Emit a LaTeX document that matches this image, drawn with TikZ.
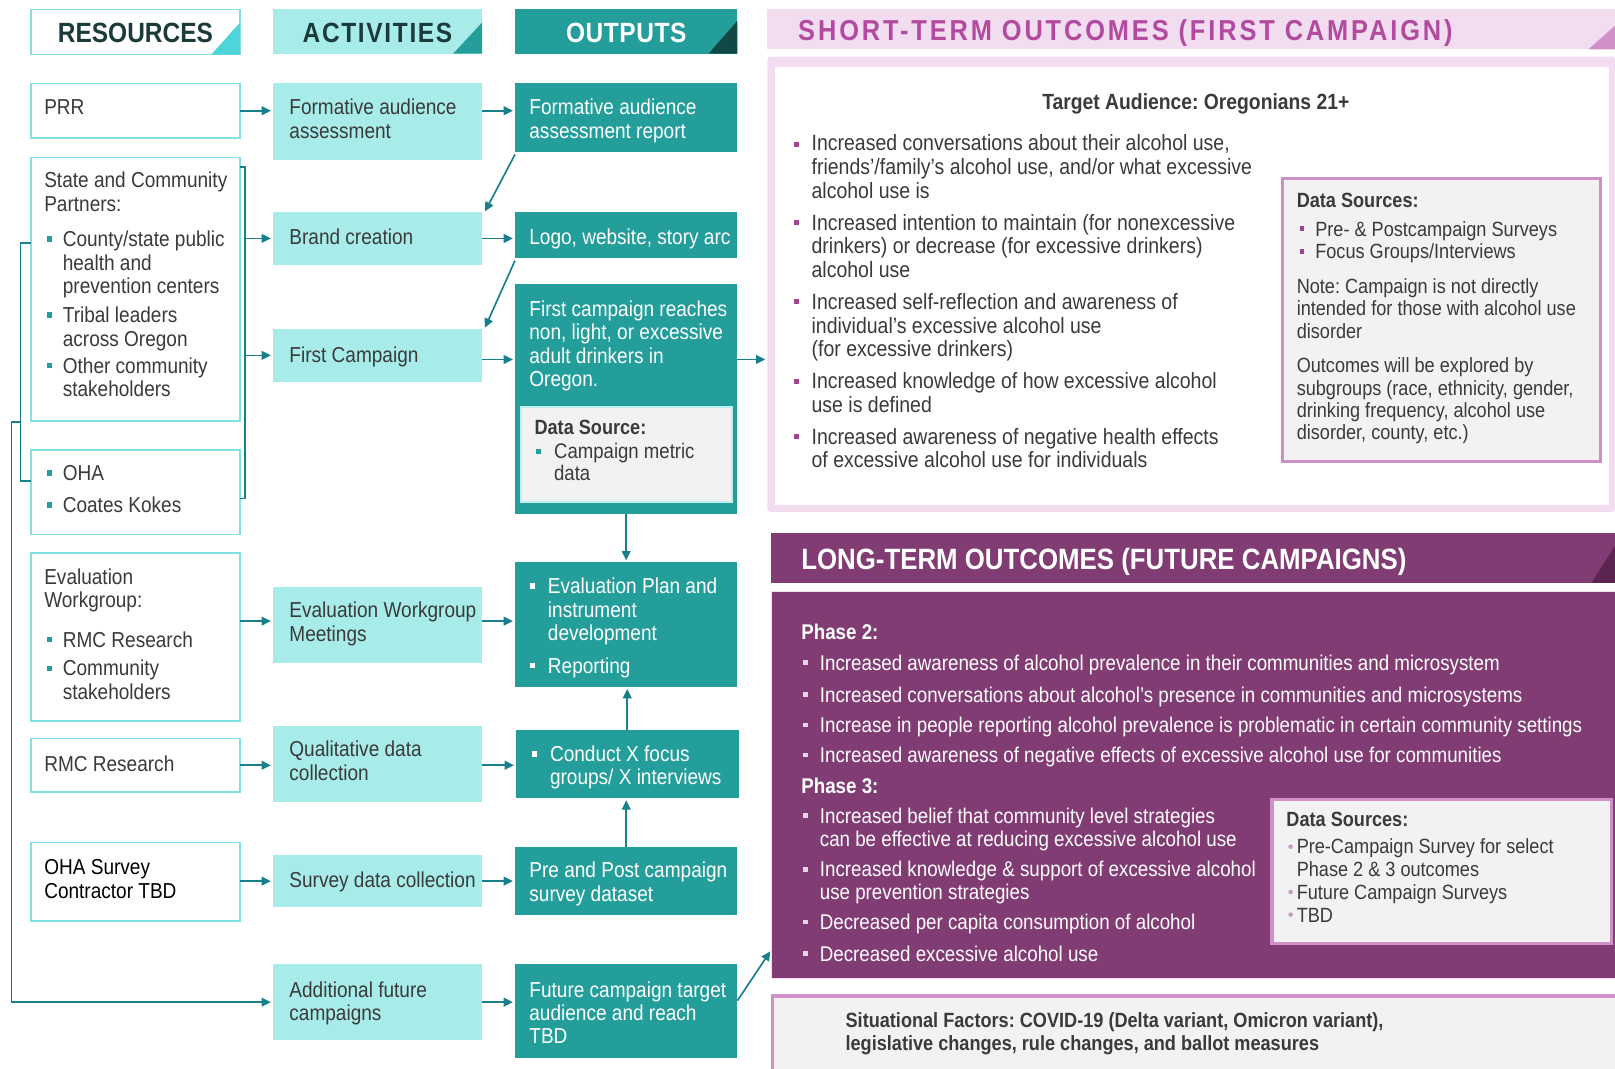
\documentclass[tikz,border=0pt]{standalone}
\usepackage{fontspec}
\setmainfont[FakeStretch=0.88]{Liberation Sans}
\usetikzlibrary{arrows.meta}
\definecolor{tealbox}{HTML}{239E9B}
\definecolor{actc}{HTML}{A8ECEA}
\definecolor{resb}{HTML}{80E0E5}
\definecolor{arrc}{HTML}{17808A}
\definecolor{tri1}{HTML}{4FD5D9}
\definecolor{tri3}{HTML}{104845}
\definecolor{headc}{HTML}{1B3B3B}
\definecolor{bodyc}{HTML}{3A3A3A}
\definecolor{pinkbg}{HTML}{F1DDEF}
\definecolor{magtext}{HTML}{B24A9F}
\definecolor{pinktri}{HTML}{D190C8}
\definecolor{sqmag}{HTML}{A04490}
\definecolor{purp}{HTML}{823C74}
\definecolor{dpurp}{HTML}{5B2451}
\definecolor{dsb}{HTML}{CF8FC6}
\definecolor{grayb}{HTML}{F2F2F2}
\definecolor{ltsq}{HTML}{E6D6E4}
\definecolor{dotc}{HTML}{C39ABD}
\definecolor{dsin}{HTML}{BDEFEF}
\newcommand\bx[7]{\node[#2, anchor=north west, minimum width={(#5-#3)*1pt}, minimum height={(#6-#4)*1pt}] (#1) at (#3,#4) {#7};}
\newcommand\sq[4]{\fill[#1] ({#2-#4/2},{#3-#4/2}) rectangle ++(#4,#4);}
\begin{document}
\frenchspacing
\begin{tikzpicture}[x=1pt,y=-1pt,
  box/.style={inner sep=0pt, outer sep=0pt},
  resbox/.style={box, draw=resb, line width=1.5pt, fill=white},
  actbox/.style={box, fill=actc},
  outbox/.style={box, fill=tealbox},
  hd/.style={font=\fontsize{27}{30}\selectfont\bfseries},
  txt/.style={inner sep=0pt, outer sep=0pt, align=left, anchor=west, yshift=-3pt, execute at begin node=\strut, execute at end node=\strut},
  rt/.style={txt, font=\fontsize{21}{23}\selectfont, text=bodyc},
  ot/.style={txt, font=\fontsize{21}{22.7}\selectfont, text=white},
  st/.style={txt, font=\fontsize{21.5}{23}\selectfont, text=bodyc},
  dst/.style={txt, font=\fontsize{20}{21.7}\selectfont, text=bodyc},
  lt/.style={txt, font=\fontsize{20.7}{23}\selectfont, text=white},
  arr/.style={draw=arrc, line width=1.6pt, -{Triangle[length=9pt,width=8.5pt]}, shorten >=2pt},
  conn/.style={draw=arrc, line width=1.5pt}
]
\useasboundingbox (0,0) rectangle (1568,1037);

% ---------- headers ----------
\bx{hres}{resbox}{30}{9}{233}{53}{}
\fill[tri1] (205,53) -- (233,53) -- (233,22) -- cycle;
\node[hd, text=headc, yshift=-1pt] (hrest) at (hres.center) {RESOURCES};
\bx{hact}{actbox}{265}{9}{468}{52}{}
\fill[tealbox] (440,52) -- (468,52) -- (468,22) -- cycle;
\node[hd, text=headc, yshift=-1pt] (hactt) at (hact.center) {\addfontfeatures{LetterSpace=6}ACTIVITIES};
\bx{hout}{outbox}{500}{9}{716}{52}{}
\fill[tri3] (688,52) -- (716,52) -- (716,20) -- cycle;
\node[hd, text=white, yshift=-1pt] (houtt) at (hout.center) {\addfontfeatures{LetterSpace=2}OUTPUTS};

% ---------- resources ----------
\bx{prr}{resbox}{30}{81}{233}{134}{}
\bx{scp}{resbox}{30}{153}{233}{409}{}
\bx{oha}{resbox}{30}{437}{233}{519}{}
\bx{ewg}{resbox}{30}{537}{233}{700}{}
\bx{rmc}{resbox}{30}{717}{233}{769}{}
\bx{ohs}{resbox}{30}{818}{233}{894}{}

\node[rt] (tprr) at (43,104) {PRR};
\node[rt] (tscp) at (43,186.5) {State and Community\\Partners:};
\sq{tealbox}{48}{232}{5.5}
\node[rt] (tscp1) at (61,255) {County/state public\\health and\\prevention centers};
\sq{tealbox}{48}{306}{5.5}
\node[rt] (tscp2) at (61,317.5) {Tribal leaders\\across Oregon};
\sq{tealbox}{48}{355}{5.5}
\node[rt] (tscp3) at (61,366.5) {Other community\\stakeholders};
\sq{tealbox}{48}{459}{5.5}
\node[rt] (toha1) at (61,459) {OHA};
\sq{tealbox}{48}{490}{5.5}
\node[rt] (toha2) at (61,490) {Coates Kokes};
\node[rt] (tewg) at (43,571.5) {Evaluation\\Workgroup:};
\sq{tealbox}{48}{621}{5.5}
\node[rt] (tewg1) at (61,621) {RMC Research};
\sq{tealbox}{48}{649}{5.5}
\node[rt] (tewg2) at (61,660) {Community\\stakeholders};
\node[rt] (trmc) at (43,741) {RMC Research};
\node[rt, text=black] (tohs) at (43,854) {OHA Survey\\Contractor TBD};

% ---------- activities ----------
\bx{faa}{actbox}{265}{81}{468}{155}{}
\bx{brand}{actbox}{265}{206}{468}{257}{}
\bx{firstc}{actbox}{265}{319}{468}{371}{}
\bx{ewm}{actbox}{265}{570}{468}{644}{}
\bx{qdc}{actbox}{265}{705}{468}{779}{}
\bx{sdc}{actbox}{265}{830}{468}{881}{}
\bx{afc}{actbox}{265}{936}{468}{1010}{}

\node[rt] (tfaa) at (281,115.5) {Formative audience\\assessment};
\node[rt] (tbrand) at (281,230) {Brand creation};
\node[rt] (tfirstc) at (281,344) {First Campaign};
\node[rt] (tewm) at (281,604) {Evaluation Workgroup\\Meetings};
\node[rt] (tqdc) at (281,739) {Qualitative data\\collection};
\node[rt] (tsdc) at (281,854) {Survey data collection};
\node[rt] (tafc) at (281,972.5) {Additional future\\campaigns};

% ---------- outputs ----------
\bx{far}{outbox}{500}{81}{716}{148}{}
\bx{logo}{outbox}{500}{206}{716}{250}{}
\bx{fcr}{outbox}{500}{276}{716}{499}{}
\bx{fcrds}{box, fill=grayb, draw=dsin, line width=2pt}{506}{395}{711}{487}{}
\bx{epl}{outbox}{500}{546}{716}{667}{}
\bx{cxf}{outbox}{501}{709}{717}{775}{}
\bx{pps}{outbox}{500}{822}{716}{888}{}
\bx{fct}{outbox}{500}{936}{716}{1027}{}

\node[ot] (tfar) at (514,115.5) {Formative audience\\assessment report};
\node[ot] (tlogo) at (514,230) {Logo, website, story arc};
\node[ot] (tfcr) at (514,334) {First campaign reaches\\non, light, or excessive\\adult drinkers in\\Oregon.};
\node[txt, font=\fontsize{20}{21.5}\selectfont\bfseries, text=bodyc] (tfcrds) at (519,415) {Data Source:};
\sq{tealbox}{523}{438}{5}
\node[txt, font=\fontsize{20.5}{21}\selectfont, text=bodyc] (tfcrds1) at (538,448.5) {Campaign metric\\data};
\sq{white}{517}{569}{5.5}
\node[ot] (tepl1) at (532,592) {Evaluation Plan and\\instrument\\development};
\sq{white}{517}{646}{5.5}
\node[ot] (tepl2) at (532,646) {Reporting};
\sq{white}{519}{732}{5.5}
\node[ot] (tcxf) at (534,743.5) {Conduct X focus\\groups/ X interviews};
\node[ot] (tpps) at (514,856.5) {Pre and Post campaign\\survey dataset};
\node[ot] (tfct) at (514,983.5) {Future campaign target\\audience and reach\\TBD};

% ---------- short-term outcomes ----------
\bx{sth}{box, fill=pinkbg}{745}{9}{1568}{48}{}
\fill[pinktri] (1542,48) -- (1568,48) -- (1568,25) -- cycle;
\node[txt, font=\fontsize{28}{30}\selectfont\bfseries, text=magtext] (tsth) at (775,30) {\addfontfeatures{LetterSpace=10}SHORT-TERM OUTCOMES (FIRST CAMPAIGN)};
\bx{stp}{box, fill=pinkbg, rounded corners=3pt}{745}{55}{1568}{497}{}
\bx{stw}{box, fill=white}{752}{65}{1562}{490}{}
\node[inner sep=0pt, yshift=-3pt, font=\fontsize{21.3}{23}\selectfont\bfseries, text=bodyc] (tta) at (1161,99) {\strut Target Audience: Oregonians 21+};

\sq{sqmag}{773}{140}{5}
\node[st] (tst1) at (788,162) {Increased conversations about their alcohol use,\\friends’/family’s alcohol use, and/or what excessive\\alcohol use is};
\sq{sqmag}{773}{216}{5}
\node[st] (tst2) at (788,239) {Increased intention to maintain (for nonexcessive\\drinkers) or decrease (for excessive drinkers)\\alcohol use};
\sq{sqmag}{773}{293}{5}
\node[st] (tst3) at (788,316) {Increased self-reflection and awareness of\\individual’s excessive alcohol use\\(for excessive drinkers)};
\sq{sqmag}{773}{370}{5}
\node[st] (tst4) at (788,381.5) {Increased knowledge of how excessive alcohol\\use is defined};
\sq{sqmag}{773}{424}{5}
\node[st] (tst5) at (788,435.5) {Increased awareness of negative health effects\\of excessive alcohol use for individuals};

\bx{stds}{box, fill=grayb, draw=dsb, line width=3pt}{1245}{173}{1554}{448}{}
\node[dst, font=\fontsize{20}{21.7}\selectfont\bfseries] (tstds) at (1259,194) {Data Sources:};
\sq{sqmag}{1264}{222}{4.5}
\node[dst] (tstds1) at (1277,222) {Pre- \& Postcampaign Surveys};
\sq{sqmag}{1264}{244}{4.5}
\node[dst] (tstds2) at (1277,244) {Focus Groups/Interviews};
\node[dst] (tstds3) at (1259,299.5) {Note: Campaign is not directly\\intended for those with alcohol use\\disorder};
\node[dst] (tstds4) at (1259,387.5) {Outcomes will be explored by\\subgroups (race, ethnicity, gender,\\drinking frequency, alcohol use\\disorder, county, etc.)};

% ---------- long-term outcomes ----------
\bx{lth}{box, fill=purp}{749}{517}{1568}{566}{}
\fill[dpurp] (1545,566) -- (1568,566) -- (1568,530) -- cycle;
\node[txt, font=\fontsize{28.5}{30}\selectfont\bfseries, text=white] (tlth) at (778,544) {LONG-TERM OUTCOMES (FUTURE CAMPAIGNS)};
\bx{ltb}{box, fill=purp, draw=pinkbg, line width=1pt}{749}{574}{1570}{950}{}

\node[lt, font=\fontsize{20.7}{23}\selectfont\bfseries] (tph2) at (778,613) {Phase 2:};
\sq{ltsq}{782}{643}{4.5}
\node[lt] (tlt1) at (796,643) {Increased awareness of alcohol prevalence in their communities and microsystem};
\sq{ltsq}{782}{674}{4.5}
\node[lt] (tlt2) at (796,674) {Increased conversations about alcohol’s presence in communities and microsystems};
\sq{ltsq}{782}{704}{4.5}
\node[lt] (tlt3) at (796,704) {Increase in people reporting alcohol prevalence is problematic in certain community settings};
\sq{ltsq}{782}{733}{4.5}
\node[lt] (tlt4) at (796,733) {Increased awareness of negative effects of excessive alcohol use for communities};
\node[lt, font=\fontsize{20.7}{23}\selectfont\bfseries] (tph3) at (778,763) {Phase 3:};
\sq{ltsq}{782}{792}{4.5}
\node[lt] (tlt5) at (796,803.5) {Increased belief that community level strategies\\can be effective at reducing excessive alcohol use};
\sq{ltsq}{782}{844}{4.5}
\node[lt] (tlt6) at (796,855) {Increased knowledge \& support of excessive alcohol\\use prevention strategies};
\sq{ltsq}{782}{895}{4.5}
\node[lt] (tlt7) at (796,895) {Decreased per capita consumption of alcohol};
\sq{ltsq}{782}{926}{4.5}
\node[lt] (tlt8) at (796,926) {Decreased excessive alcohol use};

\bx{ltds}{box, fill=grayb, draw=pinktri, line width=3pt}{1235}{776}{1565}{916}{}
\node[dst, font=\fontsize{20}{22}\selectfont\bfseries] (tltds) at (1249,795) {Data Sources:};
\fill[dotc] (1253,822) circle (2.2);
\node[dst, font=\fontsize{20}{22}\selectfont] (tltds1) at (1259,833) {Pre-Campaign Survey for select\\Phase 2 \& 3 outcomes};
\fill[dotc] (1253,866) circle (2.2);
\node[dst, font=\fontsize{20}{22}\selectfont] (tltds2) at (1259,866) {Future Campaign Surveys};
\fill[dotc] (1253,888) circle (2.2);
\node[dst, font=\fontsize{20}{22}\selectfont] (tltds3) at (1259,888) {TBD};

% ---------- situational factors ----------
\bx{sit}{box, fill=grayb, draw=pinktri, line width=3pt}{750}{967}{1575}{1050}{}
\node[txt, font=\fontsize{20}{22}\selectfont\bfseries, text=bodyc] (tsit) at (821,1002) {Situational Factors: COVID-19 (Delta variant, Omicron variant),\\legislative changes, rule changes, and ballot measures};

% ---------- connectors ----------
\draw[arr] (prr.east) -- (prr.east -| faa.west);
\draw[arr] (faa.east |- prr.east) -- (far.west |- prr.east);
\draw[arr] ([yshift=-2pt]far.south west) -- ([xshift=2pt,yshift=-1pt]brand.north east);
\draw[arr] (brand.east) -- (brand.east -| logo.west);
\draw[arr] ([yshift=-3pt]logo.south west) -- ([xshift=2pt,yshift=-1pt]firstc.north east);
\coordinate (yfc) at (0,349);
\draw[arr] (firstc.east |- yfc) -- (fcr.west |- yfc);
\draw[arr] (fcr.east |- yfc) -- (stp.west |- yfc);
\draw[arr] (fcr.south) -- (epl.north);
\draw[arr] (cxf.north) -- (cxf.north |- epl.south);
\draw[arr] (pps.north) -- (pps.north |- cxf.south);
\coordinate (yew) at (0,603);
\draw[arr] (ewg.east |- yew) -- (ewm.west |- yew);
\draw[arr] (ewm.east |- yew) -- (epl.west |- yew);
\draw[arr] (rmc.east) -- (rmc.east -| qdc.west);
\draw[arr] (qdc.east |- rmc.east) -- (cxf.west |- rmc.east);
\draw[arr] (ohs.east |- sdc.west) -- (sdc.west);
\draw[arr] (sdc.east) -- (sdc.east -| pps.west);
\draw[arr] (afc.east) -- (afc.east -| fct.west);
\coordinate (lty) at (0,922);
\draw[arr] ([yshift=10pt]fct.east) -- (ltb.west |- lty);

% right bracket
\coordinate (rb1) at (238,162);
\coordinate (rb2) at (238,484);
\draw[conn] (scp.east |- rb1) -- (rb1) -- (rb2) -- (oha.east |- rb2);
\draw[arr] (rb1 |- brand.west) -- (brand.west);
\draw[arr] (rb1 |- firstc.west) -- (firstc.west);
% left bracket
\coordinate (lb1) at (20,236);
\coordinate (lb2) at (20,467);
\draw[conn] (scp.west |- lb1) -- (lb1) -- (lb2) -- (oha.west |- lb2);
\coordinate (lb3) at (20,410);
\coordinate (lb4) at (11,0);
\draw[arr] (lb3) -| (lb4 |- afc.west) -- (afc.west);
\end{tikzpicture}
\end{document}
